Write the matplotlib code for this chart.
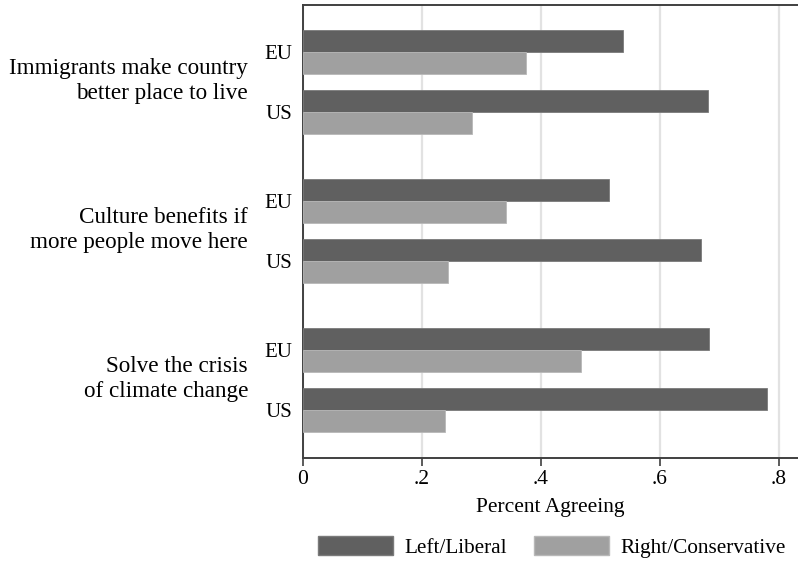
import numpy as np
import matplotlib
matplotlib.use("Agg")
import matplotlib.pyplot as plt
from matplotlib.patches import Patch
import matplotlib.transforms as mtransforms

plt.rcParams['font.family'] = ['Liberation Serif', 'DejaVu Serif']

# data
topics = ["Immigrants make country\nbetter place to live",
          "Culture benefits if\nmore people move here",
          "Solve the crisis\nof climate change"]
countries = ["EU", "US"]
# order: topic1 EU, topic1 US, topic2 EU, ...
left_liberal = [0.537, 0.681, 0.514, 0.669, 0.682, 0.779]
right_conservative = [0.375, 0.284, 0.341, 0.243, 0.467, 0.238]
xticks = [0, 0.2, 0.4, 0.6, 0.8]
xticklabels = ["0", ".2", ".4", ".6", ".8"]

dark = "#606060"
light = "#a0a0a0"

fig = plt.figure(figsize=(7.98, 5.62), dpi=100)
ax = fig.add_axes([303/798, 1 - 458/562, 1 - 303/798, (458 - 5)/562])

# layout in screen-like units (bar height = 22)
bar_h = 22
topic_step = 149
country_step = 60
first = 52
centers = []
for t in range(len(topics)):
    for c in range(len(countries)):
        centers.append(first + t*topic_step + c*country_step)
centers = np.array(centers)

ax.barh(centers - bar_h/2, left_liberal, height=bar_h, color=dark,
        edgecolor="#7a7a7a", linewidth=0.6, zorder=3)
ax.barh(centers + bar_h/2, right_conservative, height=bar_h, color=light,
        edgecolor="#b8b8b8", linewidth=0.6, zorder=3)

ax.set_ylim(458, 5)
ax.set_xlim(0, (798 - 303)/595)

ax.set_yticks(centers)
ax.set_yticklabels(countries*len(topics), fontsize=15)
ax.tick_params(axis='y', length=0, pad=8)

ax.set_xticks(xticks)
ax.set_xticklabels(xticklabels, fontsize=15.5)
ax.tick_params(axis='x', length=6, width=1.2, color="#404040", pad=3)
ax.xaxis.grid(True, color="#e2e2e2", linewidth=1.6, zorder=0)
ax.set_axisbelow(True)

for s in ['left', 'bottom', 'top']:
    ax.spines[s].set_color("#404040")
    ax.spines[s].set_linewidth(1.4)
ax.spines['right'].set_visible(False)

ax.set_xlabel("Percent Agreeing", fontsize=15.5, labelpad=6)

# topic labels to the left of EU/US
trans = mtransforms.blended_transform_factory(fig.transFigure, ax.transData)
for t, label in enumerate(topics):
    yc = first + t*topic_step + country_step/2 - 1
    ax.text(248/798, yc, label, transform=trans, ha='right', va='center',
            fontsize=16.7, linespacing=1.2)

handles = [Patch(facecolor=dark, edgecolor="#7a7a7a", label="Left/Liberal"),
           Patch(facecolor=light, edgecolor="#b8b8b8", label="Right/Conservative")]
fig.legend(handles=handles, loc='center', bbox_to_anchor=(552/798, 1 - 547/562),
           ncol=2, frameon=False, fontsize=15.3, handlelength=3.5, handleheight=0.95,
           handletextpad=0.55, columnspacing=1.3)

fig.savefig("out.png", dpi=100)
